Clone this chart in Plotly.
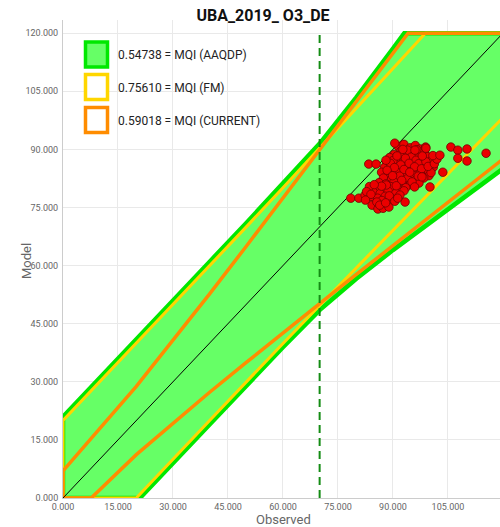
import plotly.graph_objects as go

# ---- chart data -------------------------------------------------------
title_text = "UBA_2019_ O3_DE"
x_label = "Observed"
y_label = "Model"
tick_vals = [0, 15, 30, 45, 60, 75, 90, 105, 120]
limit_value = 120        # upper cap of the acceptance bands
threshold_obs = 70       # dashed reference line on the observed axis

# half-width of each MQI acceptance band, sampled along the observed axis
band_obs = [0, 20, 40, 50, 60, 70, 80, 90, 100, 110, 120]
aaqdp_half = [21, 21, 21, 21, 21.1, 21.5, 23.4, 26.0, 29.0, 32.0, 35.0]
fm_half = [20, 20, 20, 20, 20.1, 20.3, 20.6, 20.9, 21.2, 21.5, 21.8]
current_half = [7, 8.8, 12.7, 15.0, 17.3, 19.8, 22.3, 24.8, 27.4, 29.9, 32.5]

mqi_labels = ["0.54738 = MQI (AAQDP)", "0.75610 = MQI (FM)", "0.59018 = MQI (CURRENT)"]

# station values (observed, model)
station_points = [
    (91.4, 90.8), (93.0, 91.3), (94.7, 90.4), (96.1, 91.0), (92.2, 89.6), (95.5, 89.2),
    (97.4, 90.1), (90.3, 88.7), (93.8, 88.3), (96.8, 88.6), (98.6, 89.4), (89.1, 87.9),
    (91.7, 87.4), (94.9, 87.0), (97.9, 87.6), (99.5, 88.1), (100.2, 86.9), (88.3, 86.6),
    (90.6, 86.2), (92.9, 86.8), (95.8, 86.1), (98.3, 85.9), (87.7, 85.3), (89.8, 85.0),
    (91.9, 85.6), (94.1, 85.2), (96.6, 84.8), (99.1, 84.6), (101.0, 85.4), (86.9, 84.1),
    (88.8, 83.7), (90.9, 84.3), (93.2, 83.9), (95.3, 83.5), (97.5, 83.8), (99.8, 83.2),
    (87.4, 82.6), (89.6, 82.3), (91.5, 82.9), (93.9, 82.4), (96.2, 82.1), (98.4, 82.6),
    (86.2, 81.4), (88.1, 81.1), (90.3, 81.7), (92.6, 81.2), (94.7, 80.9), (97.1, 81.3),
    (85.4, 80.2), (87.3, 79.9), (89.4, 80.4), (91.6, 79.8), (93.5, 80.1), (84.6, 79.0),
    (86.5, 78.6), (88.7, 79.2), (90.8, 78.7), (83.9, 77.8), (85.8, 77.4), (87.9, 77.9),
    (89.9, 77.2), (92.4, 88.9), (94.0, 89.8), (95.0, 88.0), (96.3, 87.2), (93.4, 87.7),
    (90.0, 87.1), (91.1, 88.3), (97.0, 86.3), (99.0, 86.8), (94.4, 86.4), (92.1, 86.0),
    (89.3, 86.4), (95.9, 85.5), (93.0, 84.8), (90.4, 85.3), (97.8, 85.0), (100.4, 84.0),
    (91.8, 83.1), (94.6, 84.1), (96.9, 83.1), (88.4, 84.6), (89.9, 83.2), (92.4, 82.0),
    (95.2, 81.6), (97.9, 82.9), (90.9, 80.6), (93.0, 79.3), (88.2, 80.8), (86.9, 80.5),
    (95.9, 80.3), (91.9, 78.2), (89.0, 78.0), (87.0, 76.8), (92.7, 90.0), (98.0, 88.3),
    (96.5, 89.9), (99.6, 85.6), (101.3, 86.3), (102.0, 87.5), (100.9, 88.4), (98.9, 90.6),
    (102.8, 88.5), (90.5, 91.6), (83.4, 86.2), (85.4, 86.2), (88.1, 87.2), (105.8, 90.6),
    (107.7, 89.8), (110.2, 90.1), (115.4, 89.0), (107.7, 87.7), (110.2, 87.0), (103.6, 84.1),
    (100.1, 80.3), (78.5, 77.4), (80.7, 77.4), (82.4, 78.2), (84.3, 75.6), (85.9, 74.6),
    (87.3, 74.8), (88.9, 75.1), (93.3, 76.4), (99.0, 90.3), (96.0, 89.8), (83.6, 80.4),
    (84.9, 80.9), (82.8, 79.1), (84.0, 78.4), (85.6, 76.4), (86.4, 75.6), (88.0, 76.2),
    (90.5, 76.6), (91.3, 77.4), (82.5, 76.9),
]
obs_vals = [p[0] for p in station_points]
mod_vals = [p[1] for p in station_points]

# ---- styling -------------------------------------------------------------
GREEN_LINE = "rgb(0,232,0)"
GREEN_FILL = "rgb(102,255,102)"
YELLOW = "rgb(255,214,0)"
ORANGE = "rgb(255,140,0)"
GRID = "#e9e9e9"
TICK_GREY = "#666666"
FONT = "Roboto"

X_MAX = 119.2
Y_MAX = 123.4


def clip_edge(xs, ys, lo, hi):
    """Clamp a polyline between lo and hi, inserting the crossing points."""
    out_x, out_y = [], []
    for i in range(len(xs)):
        if i > 0:
            x0, y0, x1, y1 = xs[i - 1], ys[i - 1], xs[i], ys[i]
            crossings = []
            for b in (lo, hi):
                if (y0 - b) * (y1 - b) < 0:
                    t = (b - y0) / (y1 - y0)
                    crossings.append((t, x0 + t * (x1 - x0), b))
            for _, cx, cy in sorted(crossings):
                out_x.append(cx)
                out_y.append(cy)
        out_x.append(xs[i])
        out_y.append(min(max(ys[i], lo), hi))
    return out_x, out_y


def band_polygon(obs, half):
    lower = [o - h for o, h in zip(obs, half)]
    upper = [o + h for o, h in zip(obs, half)]
    lx, ly = clip_edge(obs, lower, 0, limit_value)
    ux, uy = clip_edge(obs, upper, 0, limit_value)
    px = lx + ux[::-1] + [lx[0]]
    py = ly + uy[::-1] + [ly[0]]
    return px, py


fig = go.Figure()

gx, gy = band_polygon(band_obs, aaqdp_half)
fig.add_trace(go.Scatter(x=gx, y=gy, mode="lines", fill="toself",
                         fillcolor=GREEN_FILL, line=dict(color=GREEN_LINE, width=4.5),
                         hoverinfo="skip"))

yx, yy = band_polygon(band_obs, fm_half)
fig.add_trace(go.Scatter(x=yx, y=yy, mode="lines",
                         line=dict(color=YELLOW, width=3), hoverinfo="skip"))

ox, oy = band_polygon(band_obs, current_half)
fig.add_trace(go.Scatter(x=ox, y=oy, mode="lines",
                         line=dict(color=ORANGE, width=3.5), hoverinfo="skip"))

# 1:1 line
fig.add_trace(go.Scatter(x=[0, limit_value], y=[0, limit_value], mode="lines",
                         line=dict(color="black", width=1), hoverinfo="skip"))

# threshold line
fig.add_trace(go.Scatter(x=[threshold_obs, threshold_obs], y=[0, limit_value], mode="lines",
                         line=dict(color="rgb(20,140,20)", width=2, dash="8px,5px"),
                         hoverinfo="skip"))

# stations
fig.add_trace(go.Scatter(x=obs_vals, y=mod_vals, mode="markers",
                         marker=dict(size=8.5, color="rgb(235,0,0)",
                                     line=dict(color="rgb(110,0,0)", width=0.8))))

# ---- legend built from shapes and annotations ------------------------------
PL, PR, PT, PB = 63, 500, 20, 498


def px_to_paper(x, y):
    return (x - PL) / (PR - PL), (PB - y) / (PB - PT)


legend_rows = [(54.5, GREEN_LINE, GREEN_FILL), (87.0, YELLOW, "white"), (120.0, ORANGE, "white")]
shapes = []
annotations = []
for (cy, line_col, fill_col), label in zip(legend_rows, mqi_labels):
    x0, y0 = px_to_paper(85.5, cy + 12.5)
    x1, y1 = px_to_paper(107.5, cy - 12.5)
    shapes.append(dict(type="rect", xref="paper", yref="paper", x0=x0, x1=x1, y0=y0, y1=y1,
                       line=dict(color=line_col, width=3.5), fillcolor=fill_col, layer="above"))
    tx, ty = px_to_paper(116, cy + 1)
    annotations.append(dict(text=label, xref="paper", yref="paper", x=tx, y=ty,
                            xanchor="left", yanchor="middle", showarrow=False,
                            font=dict(family=FONT, size=12, color="#222222")))

# axis titles
annotations.append(dict(text=x_label, xref="paper", yref="paper",
                        x=(283 - PL) / (PR - PL), y=-(519 - PB) / (PB - PT),
                        xanchor="center", yanchor="middle", showarrow=False,
                        font=dict(family=FONT, size=13, color=TICK_GREY)))
annotations.append(dict(text=y_label, xref="paper", yref="paper",
                        x=-(PL - 26) / (PR - PL), y=(PB - 261) / (PB - PT),
                        xanchor="center", yanchor="middle", showarrow=False, textangle=-90,
                        font=dict(family=FONT, size=13, color=TICK_GREY)))

fig.update_layout(
    width=500, height=527,
    margin=dict(l=PL, r=500 - PR, t=PT, b=527 - PB),
    paper_bgcolor="white", plot_bgcolor="white",
    showlegend=False,
    font=dict(family=FONT),
    title=dict(text="<b>" + title_text + "</b>", x=263 / 500, xanchor="center",
               y=1 - 15 / 527, yanchor="middle",
               font=dict(family=FONT, size=16, color="#111111")),
    shapes=shapes,
    annotations=annotations,
)
fig.update_xaxes(range=[0, X_MAX], tickvals=tick_vals, tickformat=".3f",
                 showgrid=True, gridcolor=GRID, gridwidth=1,
                 showline=True, linecolor="#cccccc", linewidth=1, zeroline=False,
                 ticks="", tickfont=dict(family=FONT, size=9, color=TICK_GREY))
fig.update_yaxes(range=[0, Y_MAX], tickvals=tick_vals, tickformat=".3f",
                 showgrid=True, gridcolor=GRID, gridwidth=1,
                 showline=True, linecolor="#cccccc", linewidth=1, zeroline=False,
                 ticks="", ticklabelstandoff=2,
                 tickfont=dict(family=FONT, size=9, color=TICK_GREY))

fig.write_html("out.html")
